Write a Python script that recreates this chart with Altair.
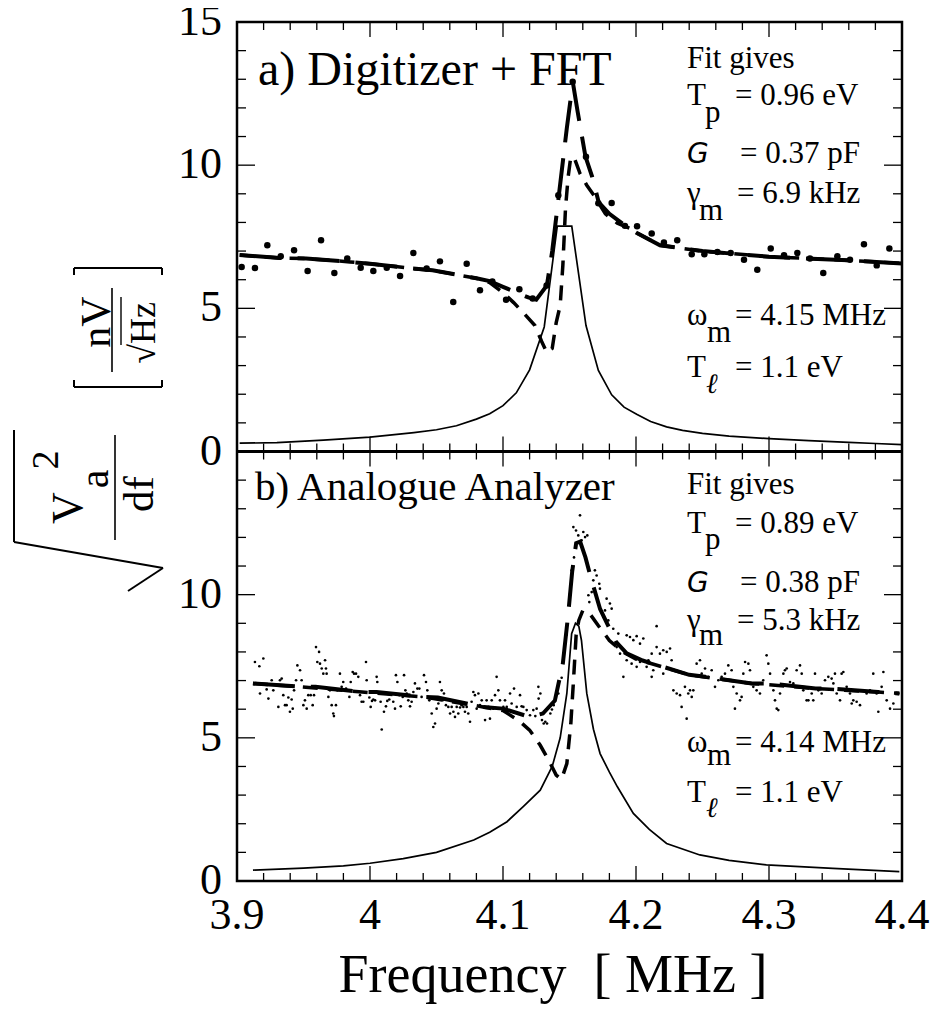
import altair as alt
import pandas as pd

FONT = "Liberation Serif"
W = 665
H = 859          # both panels together (each spans 15 units)

# ---------------- data ----------------
# panel a) Digitizer + FFT : measured points
top_dots = [
    (3.9035, 6.44), (3.9135, 6.41), (3.9228, 7.20), (3.9329, 6.82), (3.9429, 7.03),
    (3.9531, 6.30), (3.9632, 7.38), (3.9732, 6.23), (3.9829, 6.74), (3.9930, 6.42),
    (4.0025, 6.30), (4.0126, 6.42), (4.0226, 6.13), (4.0326, 6.93), (4.0426, 6.39),
    (4.0526, 6.64), (4.0626, 5.22), (4.0727, 6.56), (4.0827, 5.63), (4.0920, 5.94),
    (4.1023, 5.30), (4.1123, 5.67), (4.1223, 5.34), (4.1328, 5.80), (4.1416, 8.95),
    (4.1524, 12.91), (4.1624, 10.29), (4.1717, 8.67), (4.1817, 8.68), (4.1917, 7.88),
    (4.2008, 7.87), (4.2118, 7.61), (4.2210, 7.30), (4.2310, 7.38), (4.2419, 6.89),
    (4.2514, 6.89), (4.2612, 6.97), (4.2712, 6.93), (4.2812, 6.70), (4.2912, 6.35),
    (4.3013, 7.09), (4.3113, 6.85), (4.3213, 6.93), (4.3308, 6.74), (4.3408, 6.23),
    (4.3514, 6.82), (4.3609, 6.70), (4.3714, 7.24), (4.3810, 6.50), (4.3905, 7.09),
]
top_solid = [
    (3.902, 0.29), (3.930, 0.31), (3.965, 0.40), (4.000, 0.50), (4.033, 0.66),
    (4.050, 0.76), (4.065, 0.90), (4.080, 1.13), (4.090, 1.32), (4.100, 1.60),
    (4.110, 2.05), (4.120, 2.85), (4.131, 4.35), (4.1408, 7.87), (4.1517, 7.87),
    (4.1624, 4.40), (4.1717, 2.83), (4.1817, 1.98), (4.191, 1.55), (4.2005, 1.30),
    (4.211, 1.05), (4.223, 0.86), (4.235, 0.74), (4.250, 0.63), (4.270, 0.54),
    (4.300, 0.45), (4.330, 0.38), (4.360, 0.32), (4.380, 0.28), (4.400, 0.24),
]
top_fit_long = [
    (3.902, 6.86), (3.932, 6.76), (3.952, 6.74), (3.985, 6.62), (4.000, 6.56),
    (4.032, 6.39), (4.047, 6.33), (4.080, 6.05), (4.090, 5.95), (4.100, 5.75),
    (4.119, 5.38), (4.125, 5.30), (4.133, 5.80), (4.137, 7.00), (4.142, 8.95),
    (4.148, 11.30), (4.1525, 12.90), (4.156, 11.90), (4.162, 10.30), (4.167, 9.60),
    (4.172, 8.70), (4.180, 8.30), (4.190, 7.95), (4.200, 7.65), (4.218, 7.20),
    (4.250, 7.00), (4.300, 6.80), (4.350, 6.70), (4.400, 6.57),
]
top_fit_dip = [
    (3.902, 6.86), (3.932, 6.76), (3.952, 6.74), (3.985, 6.62), (4.000, 6.56),
    (4.032, 6.39), (4.047, 6.33), (4.080, 6.05), (4.090, 5.90), (4.100, 5.55),
    (4.108, 5.20), (4.115, 4.86), (4.124, 4.40), (4.129, 3.85), (4.133, 3.45),
    (4.137, 3.60), (4.140, 4.50), (4.143, 5.10), (4.145, 6.50), (4.147, 8.50),
    (4.149, 9.60), (4.151, 10.30), (4.154, 10.20), (4.158, 9.70), (4.163, 9.30),
    (4.169, 8.90), (4.177, 8.30), (4.186, 7.97), (4.195, 7.80), (4.200, 7.65),
    (4.218, 7.20), (4.250, 7.00), (4.300, 6.80), (4.350, 6.70), (4.400, 6.57),
]

# panel b) Analogue Analyzer : measured points
bot_dots = [
    (3.9135, 7.65), (3.9168, 7.50), (3.9198, 7.77), (3.9153, 6.90), (3.9173, 6.55),
    (3.9223, 6.69), (3.9236, 6.37), (3.9261, 7.01), (3.9273, 6.66), (3.9298, 6.87),
    (3.9311, 6.08), (3.9323, 7.01), (3.9336, 7.07), (3.9348, 6.49), (3.9361, 6.14),
    (3.9373, 6.14), (3.9386, 6.41), (3.9398, 5.91), (3.9411, 6.34), (3.9419, 6.02),
    (3.9429, 6.66), (3.9444, 7.01), (3.9454, 7.53), (3.9474, 7.36), (3.9486, 7.01),
    (3.9499, 6.14), (3.9511, 6.31), (3.9524, 6.02), (3.9536, 6.49), (3.9554, 6.49),
    (3.9569, 6.14), (3.9579, 6.49), (3.9594, 8.17), (3.9604, 7.65), (3.9617, 8.00),
    (3.9624, 7.59), (3.9637, 7.42), (3.9649, 7.24), (3.9662, 7.71), (3.9669, 7.42),
    (3.9674, 7.24), (3.9687, 6.43), (3.9699, 6.66), (3.9712, 6.14), (3.9724, 5.85),
    (3.9729, 5.76), (3.9744, 6.14), (3.9754, 6.66), (3.9774, 7.24), (3.9787, 6.78),
    (3.9799, 6.95), (3.9820, 6.72), (3.9845, 6.43), (3.9855, 6.95), (3.9870, 7.30),
    (3.9880, 7.24), (3.9895, 7.24), (3.9912, 7.13), (3.9925, 6.49), (3.9937, 6.26),
    (3.9950, 6.26), (3.9970, 7.65), (3.9975, 7.01), (3.9995, 6.41), (4.0005, 6.08),
    (4.0015, 6.29), (4.0025, 6.34), (4.0038, 6.31), (4.0050, 7.13), (4.0055, 6.95),
    (4.0070, 6.55), (4.0080, 6.26), (4.0088, 5.29), (4.0105, 5.91), (4.0120, 6.10),
    (4.0130, 6.29), (4.0145, 6.34), (4.0163, 6.55), (4.0175, 6.26), (4.0188, 6.02),
    (4.0195, 7.19), (4.0206, 6.95), (4.0221, 6.49), (4.0231, 6.10), (4.0246, 6.43),
    (4.0256, 7.19), (4.0266, 6.66), (4.0276, 6.55), (4.0288, 6.31), (4.0301, 6.10),
    (4.0313, 6.26), (4.0326, 6.60), (4.0338, 6.90), (4.0356, 6.72), (4.0371, 6.72),
    (4.0388, 6.43), (4.0406, 7.19), (4.0421, 6.95), (4.0431, 6.66), (4.0446, 6.31),
    (4.0464, 5.85), (4.0476, 5.38), (4.0489, 5.50), (4.0501, 6.02), (4.0514, 6.20),
    (4.0526, 6.95), (4.0539, 6.66), (4.0546, 6.31), (4.0556, 6.55), (4.0571, 6.14),
    (4.0589, 6.08), (4.0602, 5.85), (4.0614, 6.08), (4.0627, 5.91), (4.0639, 5.73),
    (4.0652, 6.08), (4.0664, 5.85), (4.0677, 6.06), (4.0689, 6.14), (4.0702, 6.08),
    (4.0714, 5.91), (4.0727, 6.08), (4.0739, 5.85), (4.0752, 5.56), (4.0764, 6.26),
    (4.0777, 6.60), (4.0789, 6.49), (4.0802, 6.02), (4.0815, 6.55), (4.0827, 6.14),
    (4.0840, 6.31), (4.0852, 6.08), (4.0865, 5.62), (4.0877, 6.31), (4.0890, 6.08),
    (4.0902, 5.67), (4.0915, 6.31), (4.0927, 6.02), (4.0940, 6.49), (4.0952, 7.13),
    (4.0965, 6.66), (4.0977, 6.31), (4.0990, 6.02), (4.1003, 6.08), (4.1015, 6.31),
    (4.1028, 6.08), (4.1053, 6.55), (4.1065, 6.20), (4.1083, 6.72), (4.1103, 6.08),
    (4.1128, 6.49), (4.1140, 6.10), (4.1153, 6.08), (4.1178, 5.97), (4.1203, 5.79),
    (4.1228, 5.97), (4.1253, 6.02), (4.1266, 6.78), (4.1243, 5.76), (4.1268, 6.37),
    (4.1281, 6.55), (4.1293, 5.62), (4.1306, 5.50), (4.1318, 5.56), (4.1331, 5.50),
    (4.1356, 5.85), (4.1368, 5.99), (4.1381, 6.14), (4.1416, 6.55), (4.1441, 7.10),
    (4.1454, 7.70), (4.1479, 8.60), (4.1504, 10.03), (4.1516, 10.85), (4.1529, 12.36),
    (4.1534, 11.30), (4.1549, 12.24), (4.1566, 12.07), (4.1579, 12.77), (4.1591, 11.90),
    (4.1604, 12.19), (4.1617, 12.01), (4.1634, 12.07), (4.1642, 9.98), (4.1649, 9.74),
    (4.1667, 10.09), (4.1679, 10.50), (4.1691, 10.85), (4.1704, 10.67), (4.1724, 10.38),
    (4.1729, 10.21), (4.1754, 9.22), (4.1767, 9.45), (4.1779, 9.86), (4.1792, 9.10),
    (4.1804, 9.69), (4.1817, 9.51), (4.1829, 8.81), (4.1855, 8.17), (4.1867, 8.64),
    (4.1880, 7.94), (4.1905, 7.13), (4.1930, 8.58), (4.1930, 7.71), (4.1955, 8.52),
    (4.1967, 7.59), (4.1980, 8.41), (4.2005, 8.55), (4.2005, 7.48), (4.2030, 8.29),
    (4.2030, 7.65), (4.2055, 8.47), (4.2080, 7.48), (4.2093, 7.71), (4.2118, 7.94),
    (4.2118, 7.13), (4.2130, 7.36), (4.2155, 8.90), (4.2155, 8.17), (4.2180, 7.94),
    (4.2205, 8.06), (4.2205, 7.24), (4.2231, 8.00), (4.2256, 8.12), (4.2268, 7.71),
    (4.2281, 6.66), (4.2306, 6.55), (4.2331, 6.49), (4.2343, 6.08), (4.2368, 6.78),
    (4.2381, 5.67), (4.2393, 6.55), (4.2406, 6.66), (4.2419, 6.43), (4.2431, 6.66),
    (4.2456, 7.59), (4.2481, 7.71), (4.2494, 7.24), (4.2519, 7.42), (4.2544, 7.13),
    (4.2569, 7.36), (4.2594, 6.78), (4.2619, 7.01), (4.2644, 7.13), (4.2669, 7.24),
    (4.2694, 7.53), (4.2719, 7.36), (4.2732, 6.78), (4.2744, 6.02), (4.2757, 6.55),
    (4.2782, 6.31), (4.2794, 6.43), (4.2807, 7.24), (4.2820, 7.65), (4.2845, 7.59),
    (4.2857, 7.36), (4.2882, 6.78), (4.2907, 6.66), (4.2932, 6.55), (4.2957, 7.01),
    (4.2982, 7.88), (4.2995, 7.59), (4.3008, 7.24), (4.3033, 6.66), (4.3045, 6.31),
    (4.3058, 6.02), (4.3070, 5.97), (4.3083, 6.55), (4.3108, 7.24), (4.3120, 7.36),
    (4.3133, 7.42), (4.3158, 6.95), (4.3183, 6.90), (4.3208, 7.36), (4.3233, 7.53),
    (4.3246, 7.24), (4.3258, 6.66), (4.3283, 6.31), (4.3296, 6.31), (4.3321, 6.55),
    (4.3333, 6.31), (4.3346, 7.24), (4.3371, 6.66), (4.3396, 6.55), (4.3421, 7.01),
    (4.3446, 7.13), (4.3471, 7.07), (4.3484, 6.90), (4.3496, 7.24), (4.3509, 6.55),
    (4.3534, 6.31), (4.3546, 7.24), (4.3559, 7.30), (4.3584, 6.78), (4.3609, 6.55),
    (4.3622, 6.20), (4.3634, 6.31), (4.3659, 6.26), (4.3684, 6.14), (4.3709, 6.66),
    (4.3734, 6.55), (4.3759, 6.66), (4.3784, 7.24), (4.3809, 6.55), (4.3822, 5.91),
    (4.3847, 6.78), (4.3860, 7.30), (4.3885, 6.31), (4.3910, 6.02), (4.3935, 6.20),
    (4.3972, 6.55),
]
bot_solid = [
    (3.912, 0.38), (3.950, 0.45), (3.980, 0.53), (4.000, 0.62), (4.025, 0.78),
    (4.050, 1.00), (4.078, 1.43), (4.090, 1.70), (4.103, 2.07), (4.115, 2.59),
    (4.128, 3.17), (4.137, 4.00), (4.143, 5.00), (4.148, 6.55), (4.1516, 8.64),
    (4.1545, 9.00), (4.157, 8.90), (4.159, 8.40), (4.163, 6.55), (4.168, 5.30),
    (4.173, 4.45), (4.180, 3.80), (4.186, 3.29), (4.198, 2.36), (4.210, 1.80),
    (4.223, 1.31), (4.248, 0.91), (4.270, 0.72), (4.298, 0.56), (4.348, 0.44),
    (4.398, 0.33),
]
bot_fit_long = [
    (3.912, 6.90), (3.949, 6.78), (3.959, 6.78), (3.994, 6.60), (4.005, 6.60),
    (4.040, 6.43), (4.051, 6.41), (4.085, 6.08), (4.100, 6.02), (4.120, 5.73),
    (4.130, 5.85), (4.139, 6.30), (4.145, 7.60), (4.149, 9.30), (4.152, 10.80),
    (4.155, 11.80), (4.158, 11.85), (4.162, 11.30), (4.166, 10.60), (4.173, 9.50),
    (4.185, 8.35), (4.193, 7.95), (4.205, 7.70), (4.240, 7.20), (4.252, 7.13),
    (4.287, 6.90), (4.300, 6.90), (4.335, 6.72), (4.346, 6.72), (4.382, 6.60),
    (4.398, 6.55),
]
bot_fit_dip = [
    (3.912, 6.90), (3.949, 6.78), (3.994, 6.60), (4.040, 6.43), (4.085, 6.08),
    (4.100, 5.95), (4.112, 5.60), (4.120, 5.27), (4.128, 4.74), (4.135, 4.16),
    (4.140, 3.70), (4.144, 3.55), (4.148, 4.10), (4.151, 5.50), (4.153, 7.00),
    (4.155, 8.60), (4.157, 9.10), (4.160, 9.45), (4.165, 9.35), (4.172, 8.90),
    (4.180, 8.40), (4.190, 8.00), (4.200, 7.75), (4.240, 7.20), (4.287, 6.90),
    (4.335, 6.72), (4.382, 6.60), (4.398, 6.55),
]

# axis ticks / labels
x_labels = [3.9, 4.0, 4.1, 4.2, 4.3, 4.4]
x_major = [4.0, 4.1, 4.2, 4.3]
x_minor = [3.92, 3.94, 3.96, 3.98, 4.02, 4.04, 4.06, 4.08, 4.12, 4.14,
           4.16, 4.18, 4.22, 4.24, 4.26, 4.28, 4.32, 4.34, 4.36, 4.38]
y_major = [5, 10]
y_minor = [1, 2, 3, 4, 6, 7, 8, 9, 11, 12, 13, 14]
top_y_labels = [0, 5, 10, 15]
bot_y_labels = [0, 5, 10]
x_title = "Frequency \u00a0[ MHz ]"

# annotation texts (placed in data coordinates of their panel)
top_title = [("a) Digitizer + FFT", 3.9158, 12.80)]
bot_title = [("b) Analogue Analyzer", 3.9135, 13.29)]
top_notes = [
    ("Fit gives", 4.2383, 13.39), ("T", 4.2383, 12.10), ("p", 4.2519, 11.50),
    ("= 0.96 eV", 4.2744, 12.10), ("= 0.37 pF", 4.2782, 10.07),
    ("γ", 4.2383, 8.67), ("m", 4.2474, 8.08), ("= 6.9 kHz", 4.2759, 8.67),
    ("ω", 4.2383, 4.41), ("m", 4.2534, 3.81), ("= 4.15 MHz", 4.2744, 4.41),
    ("T", 4.2383, 2.59), ("= 1.1 eV", 4.2744, 2.59),
]
top_g = [("G", 4.2383, 10.07)]
top_ell = [("ℓ", 4.2526, 2.03)]
bot_notes = [
    ("Fit gives", 4.2383, 13.53), ("T", 4.2383, 12.17), ("p", 4.2519, 11.61),
    ("= 0.89 eV", 4.2744, 12.17), ("= 0.38 pF", 4.2782, 10.08),
    ("γ", 4.2383, 8.75), ("m", 4.2474, 8.23), ("= 5.3 kHz", 4.2759, 8.75),
    ("ω", 4.2383, 4.50), ("m", 4.2534, 4.05), ("= 4.14 MHz", 4.2744, 4.50),
    ("T", 4.2383, 2.76), ("= 1.1 eV", 4.2744, 2.76),
]
bot_g = [("G", 4.2383, 10.08)]
bot_ell = [("ℓ", 4.2526, 2.23)]

XS = alt.Scale(domain=[3.9, 4.4], nice=False, zero=False)
YS = alt.Scale(domain=[0, 30], nice=False, zero=False)


def X(f):
    return alt.X(f, scale=XS, axis=None)


def Y(f):
    return alt.Y(f, scale=YS, axis=None)


def shift(ch, off):
    # each panel spans 15 units; the upper panel sits 15 units higher
    return ch.transform_calculate(yy=f"datum.v + {off}")


def xy(points):
    return pd.DataFrame(points, columns=["f", "v"])


def texts(items):
    return pd.DataFrame(items, columns=["txt", "f", "v"])


def panel_layers(off, dots, dot_size, solid, fit_long, fit_dip, title, title_size,
                 notes, g, ell, ylabels):
    L = []
    L.append(shift(alt.Chart(xy(solid)).mark_line(color="black", strokeWidth=1.7), off)
             .encode(x=X("f:Q"), y=Y("yy:Q")))
    L.append(shift(alt.Chart(xy(fit_long)).mark_line(color="black", strokeWidth=4,
                                                    strokeDash=[42, 16]), off)
             .encode(x=X("f:Q"), y=Y("yy:Q")))
    L.append(shift(alt.Chart(xy(fit_dip)).mark_line(color="black", strokeWidth=3.5,
                                                   strokeDash=[15, 10]), off)
             .encode(x=X("f:Q"), y=Y("yy:Q")))
    L.append(shift(alt.Chart(xy(dots)).mark_circle(color="black", opacity=1,
                                                  size=dot_size), off)
             .encode(x=X("f:Q"), y=Y("yy:Q")))
    # inward ticks on all four edges of the panel
    for vals, ln in [(x_major, 15), (x_minor, 8)]:
        d = pd.DataFrame({"t": vals})
        L.append(alt.Chart(d).mark_rule(color="black", strokeWidth=1.3, y2Offset=-ln)
                 .transform_calculate(e=f"{off}")
                 .encode(x=X("t:Q"), y=Y("e:Q"), y2=alt.Y2("e:Q")))
        L.append(alt.Chart(d).mark_rule(color="black", strokeWidth=1.3, y2Offset=ln)
                 .transform_calculate(e=f"{off + 15}")
                 .encode(x=X("t:Q"), y=Y("e:Q"), y2=alt.Y2("e:Q")))
    for vals, ln, edge in [(y_major, 18, 3.9), (y_minor, 9, 3.9),
                           (y_major, -18, 4.4), (y_minor, -9, 4.4)]:
        d = pd.DataFrame({"v": vals})
        L.append(shift(alt.Chart(d).mark_rule(color="black", strokeWidth=1.3, x2Offset=ln), off)
                 .transform_calculate(e=f"{edge}")
                 .encode(y=Y("yy:Q"), x=X("e:Q"), x2=alt.X2("e:Q")))
    # y tick labels
    L.append(shift(alt.Chart(pd.DataFrame({"v": ylabels})).mark_text(
        align="right", baseline="middle", dx=-15, font=FONT, fontSize=44, color="black"), off)
        .transform_calculate(e="3.9")
        .encode(y=Y("yy:Q"), x=X("e:Q"), text=alt.Text("v:Q")))
    # texts
    L.append(shift(alt.Chart(texts(title)).mark_text(
        align="left", baseline="alphabetic", font=FONT, fontSize=title_size, color="black"), off)
        .encode(x=X("f:Q"), y=Y("yy:Q"), text="txt:N"))
    L.append(shift(alt.Chart(texts(notes)).mark_text(
        align="left", baseline="alphabetic", font=FONT, fontSize=31, color="black"), off)
        .encode(x=X("f:Q"), y=Y("yy:Q"), text="txt:N"))
    L.append(shift(alt.Chart(texts(g)).mark_text(
        align="left", baseline="alphabetic", font="DejaVu Sans", fontSize=28,
        fontStyle="italic", color="black"), off)
        .encode(x=X("f:Q"), y=Y("yy:Q"), text="txt:N"))
    L.append(shift(alt.Chart(texts(ell)).mark_text(
        align="left", baseline="alphabetic", font=FONT, fontSize=28,
        fontStyle="italic", color="black"), off)
        .encode(x=X("f:Q"), y=Y("yy:Q"), text="txt:N"))
    return L


def ytitle_layers():
    L = []

    def rule(x1, y1, x2, y2, w=2.0):
        return alt.Chart().mark_rule(color="black", strokeWidth=w).encode(
            x=alt.value(x1), y=alt.value(y1), x2=alt.value(x2), y2=alt.value(y2))

    def txt(s, x, y, fs):
        return alt.Chart().mark_text(text=s, angle=270, align="center", baseline="middle",
                                     font=FONT, fontSize=fs, color="black").encode(
            x=alt.value(x), y=alt.value(y))

    # radical sign around V_a^2 / df
    L += [rule(-223, 408, -223, 520), rule(-223, 520, -74, 546), rule(-74, 546, -109, 569)]
    L += [txt("V", -168, 486, 44), txt("2", -190, 438, 38), txt("a", -142, 457, 42),
          txt("df", -97, 472, 43), rule(-122, 413, -122, 518, 1.6)]
    # units [ nV / sqrt(Hz) ]
    L += [rule(-163, 246, -75, 246), rule(-163, 246, -163, 253), rule(-75, 246, -75, 253),
          rule(-163, 365, -75, 365), rule(-163, 365, -163, 358), rule(-75, 365, -75, 358)]
    L += [txt("nV", -140, 300, 42), txt("√Hz", -93, 311, 36),
          rule(-125, 266, -125, 350, 1.6), rule(-116, 275, -116, 323, 1.4)]
    return L


layers = []
layers += panel_layers(15, top_dots, 42, top_solid, top_fit_long, top_fit_dip,
                       top_title, 48, top_notes, top_g, top_ell, top_y_labels)
layers += panel_layers(0, bot_dots, 7, bot_solid, bot_fit_long, bot_fit_dip,
                       bot_title, 41, bot_notes, bot_g, bot_ell, bot_y_labels)
# boundary between the two panels
layers.append(alt.Chart(pd.DataFrame({"v": [15]})).mark_rule(color="black", strokeWidth=3)
              .encode(y=Y("v:Q")))
# x tick labels and title
layers.append(alt.Chart(pd.DataFrame({"f": x_labels})).mark_text(
    align="center", baseline="top", dy=13, font=FONT, fontSize=44, color="black")
    .transform_calculate(e="0")
    .encode(x=X("f:Q"), y=Y("e:Q"), text=alt.Text("f:Q", format="~g")))
layers.append(alt.Chart().mark_text(
    text=x_title, align="center", baseline="alphabetic", font=FONT,
    fontSize=54, color="black").encode(x=alt.value(316), y=alt.value(970)))
layers += ytitle_layers()

# whole picture: 8 + 14 + 859 + 125 + 8 = 1014 high, 8 + 229 + 665 + 28 + 8 = 938 wide
chart = alt.layer(*layers).properties(
    width=W, height=H,
    autosize=alt.AutoSizeParams(type="none"),
    padding={"left": 229, "top": 14, "right": 28, "bottom": 125},
).configure_view(stroke="black", strokeWidth=2.5)

chart.save("out.html", embed_options={"renderer": "svg", "actions": False})
